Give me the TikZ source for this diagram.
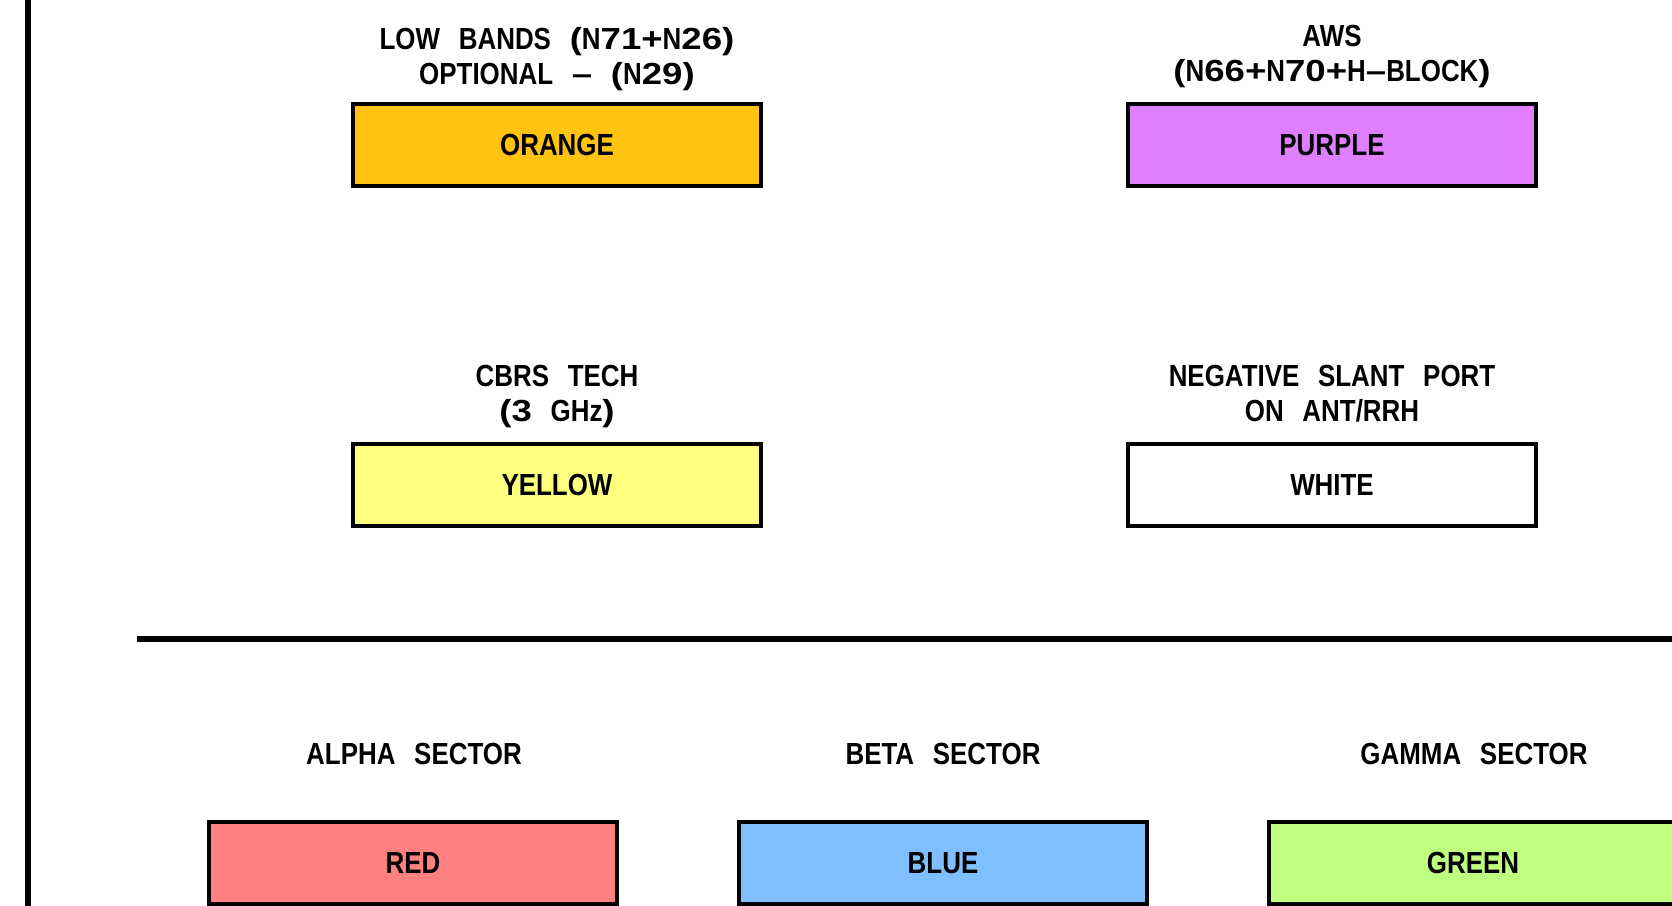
\documentclass[tikz,border=0pt]{standalone}
\usepackage{fontspec}
\setmainfont{Liberation Sans}[FakeStretch=0.85,WordSpace=2.6]
\newfontfamily\cadwidefont{Liberation Sans}[FakeStretch=1.2,WordSpace=2.6]
\newcommand{\wc}[1]{{\cadwidefont #1}}
\definecolor{cOrange}{HTML}{FFC310}
\definecolor{cPurple}{HTML}{DF7FFF}
\definecolor{cYellow}{HTML}{FFFF80}
\definecolor{cRed}{HTML}{FF8080}
\definecolor{cBlue}{HTML}{80BFFF}
\definecolor{cGreen}{HTML}{BFFF80}
\tikzset{
  cadtext/.style={font=\bfseries\fontsize{30.5}{35}\selectfont, inner sep=0pt},
  lbl/.style={cadtext, anchor=base},
  colorbox/.style={cadtext, draw=black, line width=4pt, minimum width=408pt, minimum height=82pt},
  heavy/.style={line width=6pt, draw=black}
}
\begin{document}
\begin{tikzpicture}[x=1pt,y=-1pt]
\useasboundingbox (0,0) rectangle (1672,905);
\clip (0,0) rectangle (1672,905);
% frame lines
\coordinate (vtop) at (28,-5);
\coordinate (vbot) at (28,910);
\draw[heavy] (vtop) -- (vbot);
\coordinate (hl) at (137,639);
\coordinate (hr) at (1680,639);
\draw[heavy, line width=5.5pt] (hl) -- (hr);
% top row
\node[lbl] (lowA) at (557,49) {LOW BANDS \wc{(}N\wc{71+}N\wc{26)}};
\node[lbl] (lowB) at (557,84) {OPTIONAL \wc{–} \wc{(}N\wc{29)}};
\node[colorbox, fill=cOrange] (orange) at (557,145) {ORANGE};
\node[lbl] (awsA) at (1332,46) {AWS};
\node[lbl] (awsB) at (1332,81) {\wc{(}N\wc{66+}N\wc{70+}H\wc{–}BLOCK\wc{)}};
\node[colorbox, fill=cPurple] (purple) at (1332,145) {PURPLE};
% middle row
\node[lbl] (cbrsA) at (557,386) {CBRS TECH};
\node[lbl] (cbrsB) at (557,421) {\wc{(3} GHz\wc{)}};
\node[colorbox, fill=cYellow] (yellow) at (557,485) {YELLOW};
\node[lbl] (negA) at (1332,386) {NEGATIVE SLANT PORT};
\node[lbl] (negB) at (1332,421) {ON ANT/RRH};
\node[colorbox, fill=white] (white) at (1332,485) {WHITE};
% sectors
\node[lbl] (alpha) at (414,764) {ALPHA SECTOR};
\node[lbl] (beta) at (943,764) {BETA SECTOR};
\node[lbl] (gamma) at (1474,764) {GAMMA SECTOR};
\node[colorbox, fill=cRed] (red) at (413,863) {RED};
\node[colorbox, fill=cBlue] (blue) at (943,863) {BLUE};
\node[colorbox, fill=cGreen] (green) at (1473,863) {GREEN};
\end{tikzpicture}
\end{document}
